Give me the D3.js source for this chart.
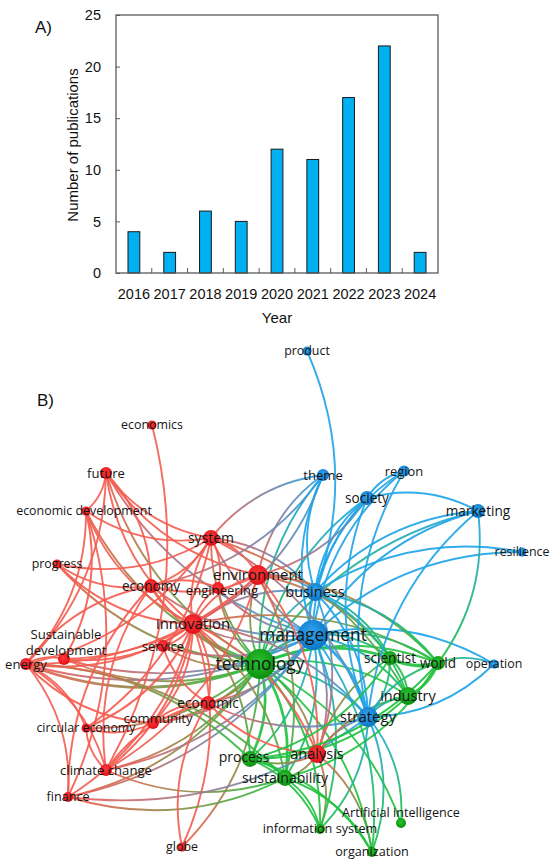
<!DOCTYPE html>
<html>
<head>
<meta charset="utf-8">
<script src="https://cdn.jsdelivr.net/npm/d3@7/dist/d3.min.js"></script>
<style>
  body { margin: 0; background: #fff; }
  svg { display: block; }
</style>
</head>
<body>
<svg id="chart" width="550" height="866"></svg>
<script>
// --- A) publications per year
const years = ["2016", "2017", "2018", "2019", "2020", "2021", "2022", "2023", "2024"];
const publications = [4, 2, 6, 5, 12, 11, 17, 22, 2];
const yTicks = [0, 5, 10, 15, 20, 25];

// --- B) keyword co-occurrence map (layout coords, cluster 1=red 2=green 3=blue)
const nodeNames = [
  "economics", "future", "economic development", "system", "progress", "economy",
  "engineering", "environment", "innovation", "service", "Sustainable development",
  "energy", "circular economy", "community", "economic", "climate change", "finance",
  "globe", "analysis",
  "product", "theme", "region", "society", "marketing", "resilience", "business",
  "management", "strategy", "operation",
  "technology", "scientist", "world", "industry", "process", "sustainability",
  "Artificial intelligence", "information system", "organization"
];
const nodeCluster = [
  1, 1, 1, 1, 1, 1, 1, 1, 1, 1, 1, 1, 1, 1, 1, 1, 1, 1, 1,
  3, 3, 3, 3, 3, 3, 3, 3, 3, 3,
  2, 2, 2, 2, 2, 2, 2, 2, 2
];
const nodeX = [
  -0.492, -0.676, -0.756, -0.256, -0.872, -0.496, -0.228, -0.068, -0.328, -0.448, -0.844,
  -0.996, -0.756, -0.488, -0.268, -0.676, -0.828, -0.372, 0.168,
  0.128, 0.192, 0.516, 0.368, 0.812, 0.988, 0.160, 0.152, 0.372, 0.876,
  -0.060, 0.460, 0.652, 0.532, -0.100, 0.040, 0.504, 0.180, 0.388
];
const nodeY = [
  0.700, 0.508, 0.356, 0.248, 0.144, 0.056, 0.048, 0.100, -0.096, -0.184, -0.236,
  -0.256, -0.512, -0.492, -0.412, -0.680, -0.788, -0.988, -0.616,
  0.996, 0.500, 0.516, 0.408, 0.356, 0.192, 0.032, -0.140, -0.468, -0.256,
  -0.256, -0.232, -0.252, -0.384, -0.636, -0.712, -0.892, -0.916, -1.008
];
const nodeWeight = [
  9, 16, 9, 28, 9, 22, 16, 44, 44, 16, 16, 16, 9, 16, 22, 16, 11, 9, 36,
  9, 16, 14, 22, 22, 9, 36, 100, 44, 9,
  100, 22, 22, 36, 28, 28, 11, 11, 11
];
const links = [
  ["technology", "future"], ["technology", "economic development"], ["technology", "system"],
  ["technology", "progress"], ["technology", "economy"], ["technology", "engineering"],
  ["technology", "environment"], ["technology", "innovation", 2], ["technology", "service"],
  ["technology", "Sustainable development"], ["technology", "energy", 2], ["technology", "circular economy"],
  ["technology", "community"], ["technology", "economic"], ["technology", "climate change"],
  ["technology", "finance"], ["technology", "globe"], ["technology", "analysis"],
  ["technology", "process", 2], ["technology", "sustainability", 2], ["technology", "scientist", 2],
  ["technology", "world"], ["technology", "industry"], ["technology", "strategy"],
  ["technology", "information system"], ["technology", "organization"], ["technology", "business"],
  ["technology", "management", 2], ["technology", "theme"], ["technology", "society"],
  ["technology", "marketing"], ["technology", "Artificial intelligence"],
  ["management", "system"], ["management", "economy"], ["management", "engineering"],
  ["management", "environment"], ["management", "innovation"], ["management", "service"],
  ["management", "energy"], ["management", "Sustainable development"], ["management", "economic"],
  ["management", "community"], ["management", "climate change"], ["management", "finance"],
  ["management", "analysis"], ["management", "business", 2], ["management", "strategy", 2],
  ["management", "theme"], ["management", "society"], ["management", "region"],
  ["management", "marketing"], ["management", "operation"], ["management", "world"],
  ["management", "scientist"], ["management", "industry"], ["management", "process"],
  ["management", "sustainability"], ["management", "organization"], ["management", "information system"],
  ["management", "resilience"], ["management", "future"],
  ["product", "business"],
  ["innovation", "future"], ["innovation", "system"], ["innovation", "economy"],
  ["innovation", "engineering"], ["innovation", "environment"], ["innovation", "service"],
  ["innovation", "energy"], ["innovation", "Sustainable development"], ["innovation", "economic development"],
  ["innovation", "progress"], ["innovation", "community"], ["innovation", "economic"],
  ["innovation", "climate change"], ["innovation", "finance"], ["innovation", "globe"],
  ["innovation", "business"], ["innovation", "strategy"], ["innovation", "analysis"],
  ["innovation", "sustainability"], ["innovation", "process"], ["innovation", "world"],
  ["system", "future"], ["system", "economic development"], ["system", "progress"],
  ["system", "economy"], ["system", "environment"], ["system", "engineering"],
  ["system", "energy"], ["system", "business"], ["system", "strategy"],
  ["system", "industry"], ["system", "theme"], ["system", "circular economy"],
  ["environment", "future"], ["environment", "economy"], ["environment", "energy"],
  ["environment", "Sustainable development"], ["environment", "climate change"], ["environment", "business"],
  ["environment", "sustainability"], ["environment", "analysis"], ["environment", "world"],
  ["environment", "scientist"], ["environment", "theme"],
  ["future", "economic development"], ["future", "economy"], ["future", "energy"],
  ["economic development", "Sustainable development"], ["economic development", "energy"],
  ["economic development", "finance"],
  ["economics", "climate change"],
  ["energy", "Sustainable development"], ["energy", "climate change"], ["energy", "circular economy"],
  ["energy", "finance"], ["energy", "economy"], ["energy", "process"], ["energy", "sustainability"],
  ["climate change", "circular economy"], ["climate change", "economy"], ["climate change", "economic"],
  ["sustainability", "climate change"], ["finance", "economy"], ["sustainability", "finance"],
  ["strategy", "finance"], ["innovation", "circular economy"],
  ["globe", "economic"], ["community", "economic"], ["community", "energy"],
  ["community", "circular economy"], ["economic", "service"], ["analysis", "economic"],
  ["strategy", "economic"], ["economy", "engineering"], ["economy", "progress"],
  ["analysis", "strategy"], ["analysis", "industry"], ["analysis", "sustainability"],
  ["analysis", "process"], ["analysis", "scientist"], ["business", "analysis"],
  ["business", "theme"], ["business", "society"], ["business", "region"],
  ["business", "marketing"], ["business", "resilience"], ["business", "strategy"],
  ["business", "world"], ["business", "industry"], ["business", "scientist"],
  ["strategy", "marketing"], ["strategy", "industry"], ["strategy", "world"],
  ["operation", "strategy"], ["strategy", "organization"], ["strategy", "information system"],
  ["strategy", "society"], ["strategy", "region"], ["strategy", "Artificial intelligence"],
  ["society", "marketing"], ["society", "region"], ["society", "environment"],
  ["theme", "economy"], ["theme", "innovation"], ["marketing", "world"],
  ["world", "operation"], ["world", "scientist", 3], ["world", "industry", 2],
  ["scientist", "industry"], ["industry", "process"], ["world", "process"],
  ["scientist", "process"], ["scientist", "strategy"], ["process", "sustainability", 2],
  ["process", "information system"], ["sustainability", "information system"],
  ["sustainability", "organization"], ["analysis", "organization"], ["analysis", "information system"],
  ["process", "organization"], ["world", "sustainability"]
];

const svg = d3.select("#chart");

// ================= A) bar chart =================
const plot = { left: 116, right: 438, top: 15, bottom: 273 };
const barFont = "'Liberation Sans', Arial, sans-serif";

const x = d3.scaleBand()
  .domain(years)
  .range([plot.left, plot.right])
  .paddingInner(0.67)
  .paddingOuter(0.335);

const y = d3.scaleLinear()
  .domain([0, 25])
  .range([plot.bottom, plot.top]);

const barG = svg.append("g");

barG.selectAll("rect.bar")
  .data(publications)
  .join("rect")
  .attr("class", "bar")
  .attr("x", (d, i) => x(years[i]))
  .attr("y", d => y(d))
  .attr("width", x.bandwidth())
  .attr("height", d => y(0) - y(d))
  .attr("fill", "#00b0f0")
  .attr("stroke", "#1a1a1a")
  .attr("stroke-width", 1);

// left axis, ticks pointing inward
const yAxis = barG.append("g")
  .attr("transform", `translate(${plot.left},0)`)
  .call(d3.axisLeft(y).tickValues(yTicks).tickSize(-4).tickPadding(15));
yAxis.select(".domain").remove();
yAxis.selectAll(".tick line").attr("stroke", "#595959");
yAxis.selectAll("text").attr("font-family", barFont).attr("font-size", 14.5).attr("fill", "#111");

// bottom axis labels
const xAxis = barG.append("g")
  .attr("transform", `translate(0,${plot.bottom})`)
  .call(d3.axisBottom(x).tickSize(0).tickPadding(16));
xAxis.select(".domain").remove();
xAxis.selectAll("text").attr("font-family", barFont).attr("font-size", 14.5).attr("fill", "#111");

// category separators on the x axis
barG.selectAll("line.sep")
  .data(years.slice(1))
  .join("line")
  .attr("class", "sep")
  .attr("x1", d => x(d) - x.step() * x.paddingInner() / 2)
  .attr("x2", d => x(d) - x.step() * x.paddingInner() / 2)
  .attr("y1", plot.bottom)
  .attr("y2", plot.bottom - 5)
  .attr("stroke", "#595959");

// frame
barG.append("rect")
  .attr("x", plot.left)
  .attr("y", plot.top)
  .attr("width", plot.right - plot.left)
  .attr("height", plot.bottom - plot.top)
  .attr("fill", "none")
  .attr("stroke", "#595959")
  .attr("stroke-width", 1.3);

barG.append("text")
  .attr("x", (plot.left + plot.right) / 2)
  .attr("y", 323)
  .attr("text-anchor", "middle")
  .attr("font-family", barFont)
  .attr("font-size", 15)
  .attr("fill", "#111")
  .text("Year");

barG.append("text")
  .attr("transform", "translate(78,145) rotate(-90)")
  .attr("text-anchor", "middle")
  .attr("font-family", barFont)
  .attr("font-size", 15)
  .attr("fill", "#111")
  .text("Number of publications");

svg.append("text")
  .attr("x", 35).attr("y", 33)
  .attr("font-family", barFont).attr("font-size", 17).attr("fill", "#111")
  .text("A)");

// ================= B) network =================
svg.append("text")
  .attr("x", 37).attr("y", 406)
  .attr("font-family", barFont).attr("font-size", 17).attr("fill", "#111")
  .text("B)");

const nx = d3.scaleLinear().domain([-1, 1]).range([25, 525]);
const ny = d3.scaleLinear().domain([-1, 1]).range([850, 350]);
const rScale = d3.scaleSqrt().domain([0, 100]).range([0, 15]);

const nodes = nodeNames.map((name, i) => ({
  name, cluster: nodeCluster[i],
  px: nx(nodeX[i]), py: ny(nodeY[i]),
  r: rScale(nodeWeight[i])
}));
const byName = new Map(nodes.map(n => [n.name, n]));

const lineColor = { 1: "#f45e52", 2: "#22c241", 3: "#22a5e8" };
const nodeColor = {
  1: ["#ff3a3a", "#e0101a"],
  2: ["#2cc232", "#0a900e"],
  3: ["#32a4ee", "#0c76c6"]
};

const defs = svg.append("defs");
Object.entries(nodeColor).forEach(([c, [inner, outer]]) => {
  const g = defs.append("radialGradient").attr("id", "node" + c)
    .attr("cx", "45%").attr("cy", "40%").attr("r", "60%");
  g.append("stop").attr("offset", "0%").attr("stop-color", inner);
  g.append("stop").attr("offset", "100%").attr("stop-color", outer);
});

const edges = links.map(([a, b, w], i) => {
  const s = byName.get(a), t = byName.get(b);
  return { s, t, w: w || 1, id: "edge" + i };
});

edges.forEach(e => {
  if (e.s.cluster === e.t.cluster) return;
  const g = defs.append("linearGradient").attr("id", e.id)
    .attr("gradientUnits", "userSpaceOnUse")
    .attr("x1", e.s.px).attr("y1", e.s.py)
    .attr("x2", e.t.px).attr("y2", e.t.py);
  g.append("stop").attr("offset", "0%").attr("stop-color", lineColor[e.s.cluster]);
  g.append("stop").attr("offset", "100%").attr("stop-color", lineColor[e.t.cluster]);
});

function arcPath(e) {
  const dx = e.t.px - e.s.px, dy = e.t.py - e.s.py;
  const k = 0.2;
  const cx = (e.s.px + e.t.px) / 2 + k * dy;
  const cy = (e.s.py + e.t.py) / 2 - k * dx;
  const p = d3.path();
  p.moveTo(e.s.px, e.s.py);
  p.quadraticCurveTo(cx, cy, e.t.px, e.t.py);
  return p.toString();
}

const widthScale = d3.scaleLinear().domain([1, 3]).range([1.9, 3.6]);

svg.append("g")
  .attr("fill", "none")
  .selectAll("path")
  .data(edges)
  .join("path")
  .attr("d", arcPath)
  .attr("stroke", e => e.s.cluster === e.t.cluster ? lineColor[e.s.cluster] : `url(#${e.id})`)
  .attr("stroke-width", e => widthScale(e.w))
  .attr("stroke-opacity", 0.92);

svg.append("g")
  .selectAll("circle")
  .data(nodes)
  .join("circle")
  .attr("cx", d => d.px)
  .attr("cy", d => d.py)
  .attr("r", d => d.r)
  .attr("fill", d => `url(#node${d.cluster})`);

// a few labels are nudged off their node to avoid overlaps
const labelNudge = {
  "Artificial intelligence": [0, -10],
  "community": [5, -5],
  "process": [-6, -2],
  "engineering": [4, 2],
  "economic development": [-2, 0]
};

const labels = svg.append("g")
  .attr("font-family", "'Open Sans', 'DejaVu Sans', sans-serif")
  .attr("fill", "#151515")
  .attr("text-anchor", "middle");

labels.selectAll("text")
  .data(nodes)
  .join("text")
  .attr("x", d => d.px + (labelNudge[d.name] ? labelNudge[d.name][0] : 0))
  .attr("y", d => d.py + (labelNudge[d.name] ? labelNudge[d.name][1] : 0))
  .attr("dy", "0.35em")
  .attr("font-size", d => 10.3 + 0.47 * d.r)
  .each(function (d) {
    const t = d3.select(this);
    if (d.name === "Sustainable development") {
      const parts = d.name.split(" ");
      t.attr("dy", null);
      t.append("tspan").attr("x", d.px + 2).attr("y", d.py - 20).text(parts[0]);
      t.append("tspan").attr("x", d.px + 2).attr("y", d.py - 4).text(parts[1]);
    } else {
      t.text(d.name);
    }
  });
</script>
</body>
</html>
